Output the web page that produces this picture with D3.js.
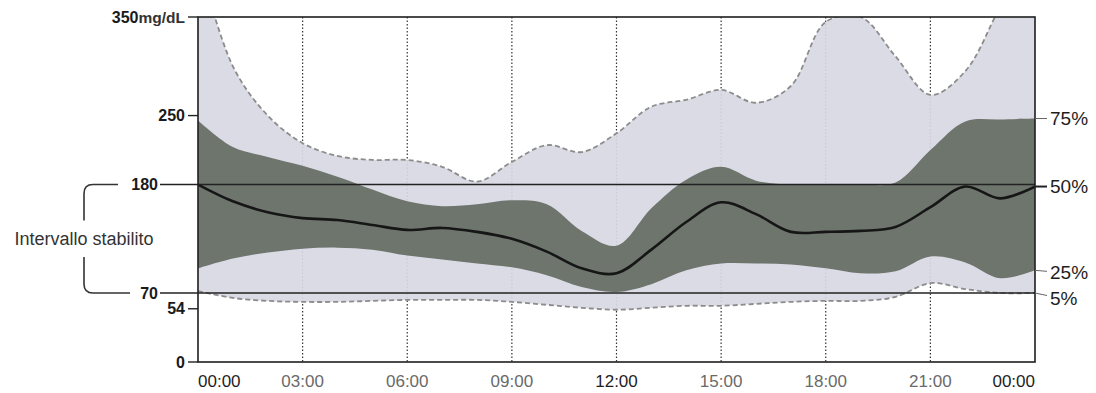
<!DOCTYPE html>
<html>
<head>
<meta charset="utf-8">
<script src="https://cdn.jsdelivr.net/npm/d3@7"></script>
<style>
  body { margin: 0; background: #fff; }
  svg { display: block; font-family: "Liberation Sans", Arial, sans-serif; }
</style>
</head>
<body>
<div id="chart"></div>
<script>
// hours of the day, one value per hour
const hours = d3.range(0, 25);
const p95 = [410, 300, 250, 222, 209, 205, 205, 198, 183, 203, 220, 213, 232, 259, 266, 276, 263, 280, 345, 350, 310, 271, 295, 360, 420];
const p75 = [245, 218, 208, 199, 188, 175, 163, 158, 160, 164, 160, 133, 118, 156, 185, 198, 184, 180, 180, 180, 182, 215, 244, 246, 247];
const p50 = [180, 163, 152, 146, 144, 139, 134, 136, 132, 125, 112, 95, 90, 114, 142, 162, 150, 132, 132, 133, 137, 157, 178, 166, 178];
const p25 = [95, 105, 111, 115, 116, 114, 108, 104, 100, 96, 88, 76, 71, 79, 93, 100, 100, 99, 95, 90, 92, 107, 101, 85, 93];
const p05 = [72, 65, 62, 61, 61, 62, 63, 63, 63, 61, 58, 55, 53, 55, 57, 57, 59, 61, 62, 62, 66, 80, 74, 70, 70];

const xTicks = [0, 3, 6, 9, 12, 15, 18, 21, 24];
const xTickLabels = ["00:00", "03:00", "06:00", "09:00", "12:00", "15:00", "18:00", "21:00", "00:00"];
const yTicks = [250, 54, 0];
const targetRange = [70, 180];
const pctLabels = ["75%", "50%", "25%", "5%"];

const W = 1096, H = 393;
const margin = {top: 17, right: 61, bottom: 31, left: 198};

const x = d3.scaleLinear().domain([0, 24]).range([margin.left, W - margin.right]);
const y = d3.scaleLinear().domain([0, 350]).range([H - margin.bottom, margin.top]);

const svg = d3.select("#chart").append("svg")
  .attr("width", W).attr("height", H);

svg.append("clipPath").attr("id", "plot")
  .append("rect")
  .attr("x", x(0)).attr("y", y(350))
  .attr("width", x(24) - x(0)).attr("height", y(0) - y(350));

// vertical dotted grid
svg.append("g")
  .selectAll("line")
  .data(xTicks.slice(1, -1))
  .join("line")
  .attr("x1", d => x(d)).attr("x2", d => x(d))
  .attr("y1", y(350)).attr("y2", y(0))
  .attr("stroke", "#333").attr("stroke-width", 1.2)
  .attr("stroke-dasharray", "1.5,2");

const curve = d3.curveCatmullRom.alpha(0.5);
const band = (lo, hi) => d3.area()
  .x((d, i) => x(hours[i]))
  .y0((d, i) => y(lo[i]))
  .y1((d, i) => y(hi[i]))
  .curve(curve)(hours);
const line = vals => d3.line()
  .x((d, i) => x(hours[i]))
  .y((d, i) => y(vals[i]))
  .curve(curve)(hours);

const g = svg.append("g").attr("clip-path", "url(#plot)");

g.append("path").attr("d", band(p05, p95))
  .attr("fill", "#d8d8e3").attr("opacity", 0.92);

g.append("path").attr("d", band(p25, p75))
  .attr("fill", "#6d756d");

[p95, p05].forEach(vals => {
  g.append("path").attr("d", line(vals))
    .attr("fill", "none").attr("stroke", "#8c8c8c")
    .attr("stroke-width", 1.8).attr("stroke-dasharray", "5,3");
});

// target range lines
targetRange.forEach(v => {
  svg.append("line")
    .attr("x1", 160).attr("x2", x(24))
    .attr("y1", y(v)).attr("y2", y(v))
    .attr("stroke", "#222").attr("stroke-width", 1.6);
});

// median
g.append("path").attr("d", line(p50))
  .attr("fill", "none").attr("stroke", "#161616").attr("stroke-width", 2.6);

// frame
svg.append("rect")
  .attr("x", x(0)).attr("y", y(350))
  .attr("width", x(24) - x(0)).attr("height", y(0) - y(350))
  .attr("fill", "none").attr("stroke", "#1e1e1e").attr("stroke-width", 1.6);

// left ticks
svg.append("g")
  .selectAll("line")
  .data(yTicks.concat([350]))
  .join("line")
  .attr("x1", x(0) - 10).attr("x2", x(0))
  .attr("y1", d => y(d)).attr("y2", d => y(d))
  .attr("stroke", "#222").attr("stroke-width", 1.4);

svg.append("g")
  .selectAll("text")
  .data(yTicks)
  .join("text")
  .attr("x", x(0) - 13).attr("y", d => y(d))
  .attr("dy", "0.35em").attr("text-anchor", "end")
  .attr("font-size", 16).attr("font-weight", "bold").attr("fill", "#1a1a1a")
  .text(d => d);

const topLabel = svg.append("text")
  .attr("x", x(0) - 13).attr("y", y(350)).attr("dy", "0.35em")
  .attr("text-anchor", "end").attr("fill", "#1a1a1a");
topLabel.append("tspan").attr("font-size", 16).attr("font-weight", "bold").text("350");
topLabel.append("tspan").attr("font-size", 15.5).attr("font-weight", "bold").attr("fill", "#333").text("mg/dL");

targetRange.forEach(v => {
  svg.append("text")
    .attr("x", 158).attr("y", y(v)).attr("dy", "0.35em")
    .attr("text-anchor", "end")
    .attr("font-size", 16).attr("font-weight", "bold").attr("fill", "#1a1a1a")
    .text(v);
});

// bracket
const bx = 84, r = 9;
const yHi = y(targetRange[1]), yLo = y(targetRange[0]);
svg.append("path")
  .attr("d", `M118,${yHi} H${bx + r} Q${bx},${yHi} ${bx},${yHi + r} V${yHi + 36}
              M${bx},${yLo - 36} V${yLo - r} Q${bx},${yLo} ${bx + r},${yLo} H130`)
  .attr("fill", "none").attr("stroke", "#333").attr("stroke-width", 1.6);

svg.append("text")
  .attr("x", bx).attr("y", (yHi + yLo) / 2).attr("dy", "0.35em")
  .attr("text-anchor", "middle").attr("font-size", 18).attr("fill", "#333")
  .text("Intervallo stabilito");

// x labels
svg.append("g")
  .selectAll("text")
  .data(xTicks)
  .join("text")
  .attr("x", d => x(d)).attr("y", y(0) + 25)
  .attr("text-anchor", (d, i) => i === 0 ? "start" : i === xTicks.length - 1 ? "end" : "middle")
  .attr("font-size", 17)
  .attr("fill", (d, i) => (i === 0 || i === 4 || i === 8) ? "#1e1e1e" : "#6a6a6a")
  .text((d, i) => xTickLabels[i]);

// percentile labels on the right
const ends = [p75, p50, p25, p05].map(a => a[a.length - 1]);
const nudge = [0, 0, 2, 5];
ends.forEach((v, i) => {
  svg.append("line")
    .attr("x1", x(24)).attr("x2", x(24) + 12)
    .attr("y1", y(v)).attr("y2", y(v) + nudge[i] / 2)
    .attr("stroke", i === 1 ? "#222" : "#666").attr("stroke-width", i === 1 ? 2 : 1);
  svg.append("text")
    .attr("x", x(24) + 15).attr("y", y(v) + nudge[i]).attr("dy", "0.35em")
    .attr("font-size", 19).attr("fill", "#1e1e1e")
    .text(pctLabels[i]);
});
</script>
</body>
</html>
